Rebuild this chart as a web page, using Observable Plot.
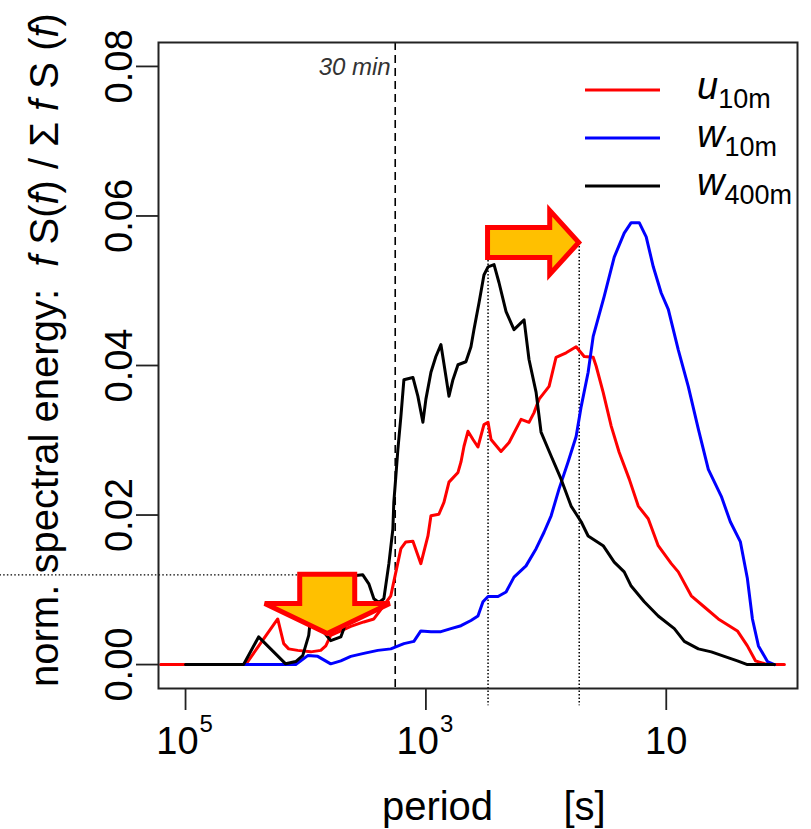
<!DOCTYPE html>
<html><head><meta charset="utf-8">
<script src="https://cdn.jsdelivr.net/npm/d3@7"></script>
<script src="https://cdn.jsdelivr.net/npm/@observablehq/plot@0.6"></script>
<style>html,body{margin:0;padding:0;background:#fff} svg{display:block}</style>
</head><body><div id="chart"></div>
<script>
// ---------- data (period given as log10 of seconds) ----------
const u10mLog10Period = [5.208,4.5,4.233,4.183,4.142,4.067,3.958,3.875,3.833,3.792,3.708,3.625,3.517,3.433,3.35,3.292,3.267,3.208,3.167,3.108,3.042,2.983,2.958,2.892,2.85,2.808,2.733,2.708,2.683,2.65,2.608,2.567,2.517,2.483,2.458,2.375,2.308,2.208,2.142,2.1,2.058,1.975,1.917,1.833,1.75,1.683,1.608,1.583,1.525,1.458,1.392,1.308,1.233,1.15,1.067,0.958,0.9,0.792,0.683,0.567,0.408,0.325,0.258,0.158,0.017];
const u10mEnergy = [0,0,0.0061,0.0028,0.0021,0.0019,0.0017,0.0019,0.0025,0.0039,0.0045,0.0051,0.0057,0.0061,0.0079,0.0092,0.0111,0.0155,0.0164,0.0165,0.0135,0.0172,0.0199,0.0201,0.0217,0.0244,0.0257,0.0271,0.0292,0.0312,0.0301,0.0291,0.0321,0.0324,0.0301,0.0285,0.0297,0.0328,0.0324,0.0337,0.0355,0.0372,0.0411,0.0417,0.0425,0.0412,0.0411,0.0399,0.0364,0.0319,0.0284,0.0248,0.0212,0.0195,0.0159,0.0135,0.0124,0.0092,0.0077,0.0061,0.0045,0.0025,0.0005,0,0];

const w10mLog10Period = [4.542,4.083,3.983,3.9,3.792,3.708,3.625,3.517,3.4,3.292,3.183,3.1,3.042,2.958,2.875,2.792,2.708,2.625,2.567,2.525,2.483,2.4,2.333,2.267,2.167,2.083,2.017,1.958,1.892,1.817,1.75,1.708,1.65,1.608,1.517,1.433,1.35,1.292,1.225,1.167,1.108,1.042,0.983,0.9,0.817,0.733,0.65,0.542,0.467,0.383,0.325,0.283,0.233,0.158,0.1];
const w10mEnergy = [0,0,0.0012,0.0011,0.0001,0.0005,0.0011,0.0015,0.0019,0.0021,0.0028,0.0031,0.0045,0.0044,0.0044,0.0048,0.0052,0.0059,0.0065,0.0084,0.0091,0.0091,0.0097,0.0117,0.0132,0.0155,0.0177,0.0199,0.0235,0.0271,0.0305,0.0345,0.0391,0.0439,0.0492,0.0545,0.0577,0.0591,0.0591,0.0572,0.0532,0.0497,0.0475,0.0421,0.0372,0.0315,0.0261,0.0225,0.0191,0.0164,0.0115,0.0061,0.0025,0.0004,0];

const w400mLog10Period = [5.0,4.517,4.392,4.267,4.167,4.083,4.025,3.975,3.958,3.792,3.708,3.683,3.625,3.583,3.525,3.475,3.433,3.392,3.35,3.308,3.275,3.267,3.25,3.233,3.208,3.183,3.108,3.067,3.025,3.0,2.958,2.917,2.875,2.833,2.808,2.775,2.733,2.667,2.625,2.6,2.558,2.517,2.483,2.433,2.392,2.333,2.267,2.183,2.142,2.083,2.042,1.958,1.875,1.792,1.708,1.65,1.525,1.433,1.35,1.292,1.183,1.067,0.933,0.85,0.733,0.625,0.517,0.408,0.325,0.1];
const w400mEnergy = [0,0,0.0037,0.0017,0.0001,0.0004,0.0012,0.0039,0.0065,0.0032,0.0037,0.0048,0.0088,0.0119,0.012,0.0108,0.0088,0.0083,0.0088,0.0135,0.0181,0.0217,0.0252,0.0288,0.0332,0.0381,0.0384,0.0359,0.0324,0.0355,0.0391,0.0412,0.0428,0.0385,0.0359,0.0381,0.0401,0.0405,0.0425,0.0448,0.0484,0.0521,0.0532,0.0535,0.0511,0.0472,0.0448,0.0461,0.0408,0.0364,0.0311,0.0279,0.0248,0.0212,0.0191,0.0172,0.0159,0.0137,0.0124,0.0105,0.0084,0.0065,0.0048,0.0031,0.0021,0.0017,0.0011,0.0005,0,0];

const seriesNames = ["u", "w", "w"];
const seriesSubs = ["10m", "10m", "400m"];
const seriesColors = ["#ff0000", "#0000ff", "#000000"];

const yTicks = [0, 0.02, 0.04, 0.06, 0.08];
const xTicks = [1e5, 1e3, 10];
const xTickExponents = ["5", "3", ""];

const markerPeriod30min = 1800;        // 30 min
const guidePeriods = [304, 53];        // dotted verticals (peak shift)
const guideLevel = 0.0564;             // level of the right arrow
const bumpLevel = 0.012;               // horizontal dotted level
const bumpPeriod = 3548;               // end of horizontal dotted line
const downArrowPeriod = 6561;
const downArrowTop = 0.012, downArrowTip = 0.0041;

// ---------- build tables ----------
function table(lp, e, k) { return lp.map((p, i) => ({period: Math.pow(10, p), energy: e[i], k})); }
const uData = table(u10mLog10Period, u10mEnergy, 0);
const wData = table(w10mLog10Period, w10mEnergy, 1);
const w4Data = table(w400mLog10Period, w400mEnergy, 2);
const tickRows = xTicks.map((t, i) => ({t, e: xTickExponents[i]}));

const FONT = "'Liberation Sans', Arial, Helvetica, sans-serif";

function decorations(index, scales, values, dim) {
  const {x, y} = scales;
  const g = d3.create("svg:g").attr("font-family", FONT).attr("text-anchor", "start");
  const right = dim.width - dim.marginRight;
  const top = dim.marginTop;
  // right arrow
  const x0 = x(guidePeriods[0]), x1 = x(guidePeriods[1]), yc = y(guideLevel);
  const bh = 15, hh = 32, hl = 29;
  const rp = [[x0,yc-bh],[x1-hl,yc-bh],[x1-hl,yc-hh],[x1,yc],[x1-hl,yc+hh],[x1-hl,yc+bh],[x0,yc+bh]];
  g.append("path").attr("d", "M" + rp.join("L") + "Z")
    .attr("fill", "#FFC000").attr("stroke", "#FF0000").attr("stroke-width", 5).attr("stroke-linejoin", "miter");
  // down arrow
  const xc = x(downArrowPeriod), yt = y(downArrowTop), yb = y(downArrowTip);
  const bw = 27.5, hw = 62.5, dl = 30;
  const dp = [[xc-bw,yt],[xc+bw,yt],[xc+bw,yb-dl],[xc+hw,yb-dl],[xc,yb],[xc-hw,yb-dl],[xc-bw,yb-dl]];
  g.append("path").attr("d", "M" + dp.join("L") + "Z")
    .attr("fill", "#FFC000").attr("stroke", "#FF0000").attr("stroke-width", 5).attr("stroke-linejoin", "miter");
  // 30 min label
  g.append("text").attr("x", x(markerPeriod30min) - 4).attr("y", top + 33)
    .attr("text-anchor", "end").attr("font-size", 24).attr("font-style", "italic").attr("fill", "#333")
    .text("30 min");
  // legend
  seriesNames.forEach((n, i) => {
    const ly = top + 48 + i * 48;
    g.append("line").attr("x1", right - 212).attr("x2", right - 137).attr("y1", ly).attr("y2", ly)
      .attr("stroke", seriesColors[i]).attr("stroke-width", 3);
    const t = g.append("text").attr("x", right - 100).attr("y", ly + 9).attr("fill", "#000").attr("text-anchor", "start");
    t.append("tspan").attr("font-style", "italic").attr("font-size", 38).text(n);
    t.append("tspan").attr("font-size", 27).attr("dy", 9).text(seriesSubs[i]);
  });
  // y axis title
  const cy = 350;
  const yt2 = g.append("text").attr("transform", `translate(58,${cy}) rotate(-90)`)
    .attr("text-anchor", "middle").attr("font-size", 40).attr("fill", "#000").style("white-space", "pre");
  const parts = [["norm. spectral energy:  ", false], ["f", true], [" S(", false], ["f", true], [") / Σ ", false], ["f", true], [" S (", false], ["f", true], [")", false]];
  parts.forEach(([s, it]) => { const ts = yt2.append("tspan").text(s); if (it) ts.attr("font-style", "italic"); });
  // x axis title
  const cx = (dim.marginLeft + right) / 2;
  g.append("text").attr("x", cx - 40).attr("y", dim.height - 9).attr("text-anchor", "middle")
    .attr("font-size", 40).text("period");
  g.append("text").attr("x", cx + 107).attr("y", dim.height - 9).attr("text-anchor", "middle")
    .attr("font-size", 40).text("[s]");
  return g.node();
}

const plot = Plot.plot({
  width: 811, height: 829,
  marginLeft: 158, marginRight: 14, marginTop: 42, marginBottom: 141,
  style: {fontFamily: FONT, background: "white", overflow: "visible"},
  x: {type: "log", domain: [Math.pow(10, 5.225), Math.pow(10, -0.092)], axis: null},
  y: {domain: [-0.0032, 0.0832], axis: null},
  marks: [
    Plot.ruleY([bumpLevel], {x1: 3.5e6, x2: bumpPeriod, stroke: "#000", strokeWidth: 1.3, strokeDasharray: "1.5,2.2"}),
    Plot.ruleX([markerPeriod30min], {stroke: "#000", strokeWidth: 1.6, strokeDasharray: "8,5"}),
    Plot.ruleX(guidePeriods, {y1: guideLevel, y2: -0.0055, stroke: "#000", strokeWidth: 1.5, strokeDasharray: "1.5,2"}),
    Plot.line(uData, {x: "period", y: "energy", stroke: seriesColors[0], strokeWidth: 3}),
    Plot.line(wData, {x: "period", y: "energy", stroke: seriesColors[1], strokeWidth: 3}),
    Plot.line(w4Data, {x: "period", y: "energy", stroke: seriesColors[2], strokeWidth: 3}),
    Plot.frame({stroke: "#222", strokeWidth: 2}),
    Plot.axisX(xTicks, {tickSize: 22, tickFormat: () => "", label: null, strokeWidth: 1.8, stroke: "#222"}),
    Plot.axisY(yTicks, {tickSize: 22, tickFormat: () => "", label: null, strokeWidth: 1.8, stroke: "#222"}),
    Plot.text(yTicks, {y: d => d, text: d => d.toFixed(2), frameAnchor: "left", dx: -27, rotate: -90,
      textAnchor: "middle", lineAnchor: "bottom", fontSize: 38, fill: "#000"}),
    Plot.text(tickRows.filter(d => d.e), {x: "t", text: () => "10", frameAnchor: "bottom", dy: 65,
      textAnchor: "end", dx: 13, lineAnchor: "bottom", fontSize: 38, fill: "#000"}),
    Plot.text(tickRows.filter(d => d.e), {x: "t", text: "e", frameAnchor: "bottom", dy: 43,
      textAnchor: "start", dx: 14, lineAnchor: "bottom", fontSize: 24, fill: "#000"}),
    Plot.text(tickRows.filter(d => !d.e), {x: "t", text: () => "10", frameAnchor: "bottom", dy: 65,
      textAnchor: "middle", lineAnchor: "bottom", fontSize: 38, fill: "#000"}),
    decorations
  ]
});
document.getElementById("chart").appendChild(plot);
</script>
</body></html>
